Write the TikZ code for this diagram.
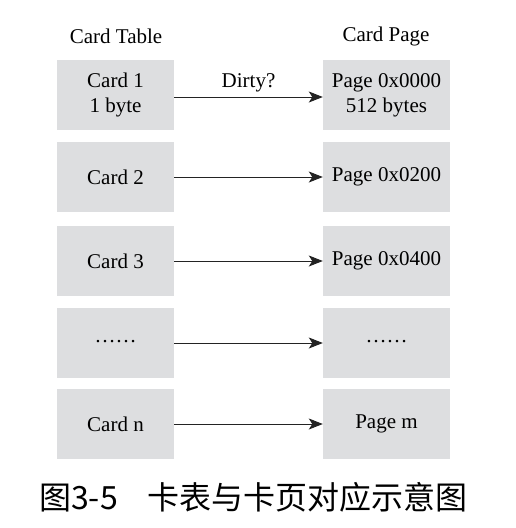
\documentclass[tikz,border=0pt]{standalone}
\usepackage{fontspec}
\setmainfont{Liberation Serif}
\newfontfamily\cjk{Noto Sans CJK SC}
\usetikzlibrary{arrows.meta}
\definecolor{boxgray}{RGB}{221,222,224}
\definecolor{linegray}{RGB}{35,35,35}
\begin{document}
\begin{tikzpicture}[x=1pt,y=-1pt,
  cardbox/.style={fill=boxgray,draw=none,minimum width=117pt,minimum height=70pt,inner sep=0pt,align=center,font=\fontsize{21}{25}\selectfont},
  pagebox/.style={fill=boxgray,draw=none,minimum width=127pt,minimum height=70pt,inner sep=0pt,align=center,font=\fontsize{21}{25}\selectfont},
  headtext/.style={font=\fontsize{21}{24}\selectfont,inner sep=0pt},
  link/.style={draw=linegray,line width=0.9pt,-{Stealth[length=14pt,width=11pt,inset=3.5pt]}}]
\useasboundingbox (0,0) rectangle (516,528);
\node[headtext] (hct) at (116,36) {Card Table};
\node[headtext] (hcp) at (386,36) {Card Page};
\node[cardbox] (c1) at (115.5,95) {Card 1\\1 byte};
\node[cardbox] (c2) at (115.5,177) {Card 2};
\node[cardbox] (c3) at (115.5,261) {Card 3};
\node[cardbox] (c4) at (115.5,343) {\raisebox{4pt}{……}};
\node[cardbox] (c5) at (115.5,424) {Card n};
\node[pagebox] (p1) at (386.5,95) {Page 0x0000\\512 bytes};
\node[pagebox] (p2) at (386.5,177) {Page 0x0200};
\node[pagebox] (p3) at (386.5,261) {Page 0x0400};
\node[pagebox] (p4) at (386.5,343) {\raisebox{4pt}{……}};
\node[pagebox] (p5) at (386.5,424) {Page m};
\draw[link] (c1.east) ++(0,2) coordinate (a1) -- (a1 -| p1.west) node[midway,above=5pt,headtext] (dirty) {Dirty?};
\draw[link] (c2) -- (p2);
\draw[link] (c3) -- (p3);
\draw[link] (c4) -- (p4);
\draw[link] (c5) -- (p5);
\node[font=\cjk\fontsize{32}{36}\selectfont,inner sep=0pt,anchor=west] (cap) at (39,497) {图3-5\hspace{30pt}卡表与卡页对应示意图};
\end{tikzpicture}
\end{document}
